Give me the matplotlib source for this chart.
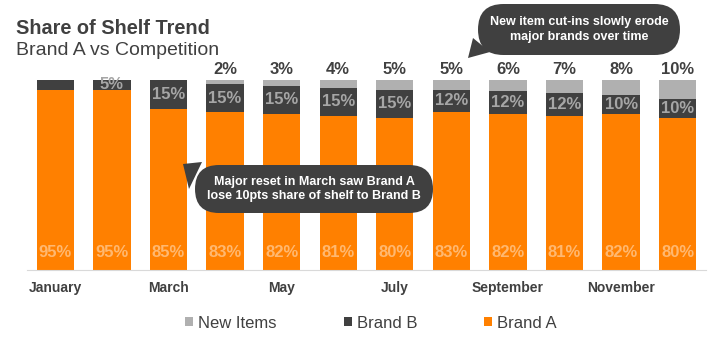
import matplotlib.pyplot as plt
from matplotlib.patches import FancyBboxPatch, Polygon
from matplotlib.transforms import Affine2D

plt.rcParams["font.family"] = ["Liberation Sans", "DejaVu Sans"]

# Data
months = ["January", "February", "March", "April", "May", "June", "July",
          "August", "September", "October", "November", "December"]
tick_labels = ["January", "", "March", "", "May", "", "July",
               "", "September", "", "November", ""]
brand_a = [95, 95, 85, 83, 82, 81, 80, 83, 82, 81, 82, 80]
brand_b = [5, 5, 15, 15, 15, 15, 15, 12, 12, 12, 10, 10]
new_items = [0, 0, 0, 2, 3, 4, 5, 5, 6, 7, 8, 10]
brand_b_labels = ["", "5%", "15%", "15%", "15%", "15%", "15%",
                  "12%", "12%", "12%", "10%", "10%"]

c_a = "#FF8000"
c_b = "#404040"
c_new = "#B0B0B0"
dark = "#404040"

fig = plt.figure(figsize=(7.2, 3.42), dpi=100)
ax = fig.add_axes([27 / 720, 1 - 270 / 342, 679 / 720, 190 / 342])

x = range(len(months))
w = 0.66
bars_a = ax.bar(x, brand_a, w, color=c_a, label="Brand A")
bars_b = ax.bar(x, brand_b, w, bottom=brand_a, color=c_b, label="Brand B")
bottom_new = [a + b for a, b in zip(brand_a, brand_b)]
bars_n = ax.bar(x, new_items, w, bottom=bottom_new, color=c_new, label="New Items")

# labels
for i in x:
    ax.text(i, 9, f"{brand_a[i]}%", ha="center", va="center", fontsize=12,
            fontweight="bold", color="#FFB870")
    if brand_b_labels[i]:
        t = ax.text(i, brand_a[i] + brand_b[i] / 2, brand_b_labels[i], ha="center",
                    va="center", fontsize=12, fontweight="bold", color="#A6A6A6")
        t.set_clip_path(bars_b[i])
    if new_items[i] > 0:
        ax.annotate(f"{new_items[i]}%", (i, 100), xytext=(0, 2),
                    textcoords="offset points", ha="center", va="bottom",
                    fontsize=12, fontweight="bold", color=dark,
                    annotation_clip=False)

ax.set_xlim(-0.5, len(months) - 0.5)
ax.set_ylim(0, 100)
ax.set_yticks([])
ax.set_xticks(list(x))
ax.set_xticklabels(tick_labels, fontsize=10, fontweight="bold", color=dark)
ax.tick_params(axis="x", length=0, pad=8)
for s in ["top", "left", "right"]:
    ax.spines[s].set_visible(False)
ax.spines["bottom"].set_color("#D9D9D9")

# titles
fig.text(16 / 720, 1 - 34 / 342, "Share of Shelf Trend", fontsize=14.3,
         fontweight="bold", color=dark, va="baseline")
fig.text(16 / 720, 1 - 55 / 342, "Brand A vs Competition", fontsize=14,
         color=dark, va="baseline")

# legend
fig.legend(handles=[bars_n, bars_b, bars_a], loc="center",
           bbox_to_anchor=(371 / 720, 1 - 323 / 342), ncol=3, frameon=False,
           fontsize=12, labelcolor=dark, handlelength=0.5, handleheight=0.5,
           handletextpad=0.3, columnspacing=4.0)

# callouts, in pixel coords from top-left
pix = Affine2D().scale(1 / 720, -1 / 342).translate(0, 1) + fig.transFigure


def callout(x0, y0, x1, y1, tail, text):
    h = y1 - y0
    box = FancyBboxPatch((x0, y0), x1 - x0, h,
                         boxstyle=f"round,pad=0,rounding_size={h / 2}",
                         transform=pix, facecolor=dark, edgecolor="none",
                         zorder=5)
    fig.patches.append(box)
    fig.patches.append(Polygon(tail, closed=True, transform=pix,
                               facecolor=dark, edgecolor="none", zorder=5))
    fig.text((x0 + x1) / 2 / 720, 1 - (y0 + y1) / 2 / 342, text, ha="center",
             va="center", fontsize=9, fontweight="bold", color="white",
             linespacing=1.25, zorder=6)


callout(195, 165, 433, 213, [(183, 164), (202, 162), (189, 189)],
        "Major reset in March saw Brand A\nlose 10pts share of shelf to Brand B")
callout(478, 4, 680, 55, [(468, 58), (473, 38), (490, 52)],
        "New item cut-ins slowly erode\nmajor brands over time")

fig.savefig("out.png", dpi=100)
